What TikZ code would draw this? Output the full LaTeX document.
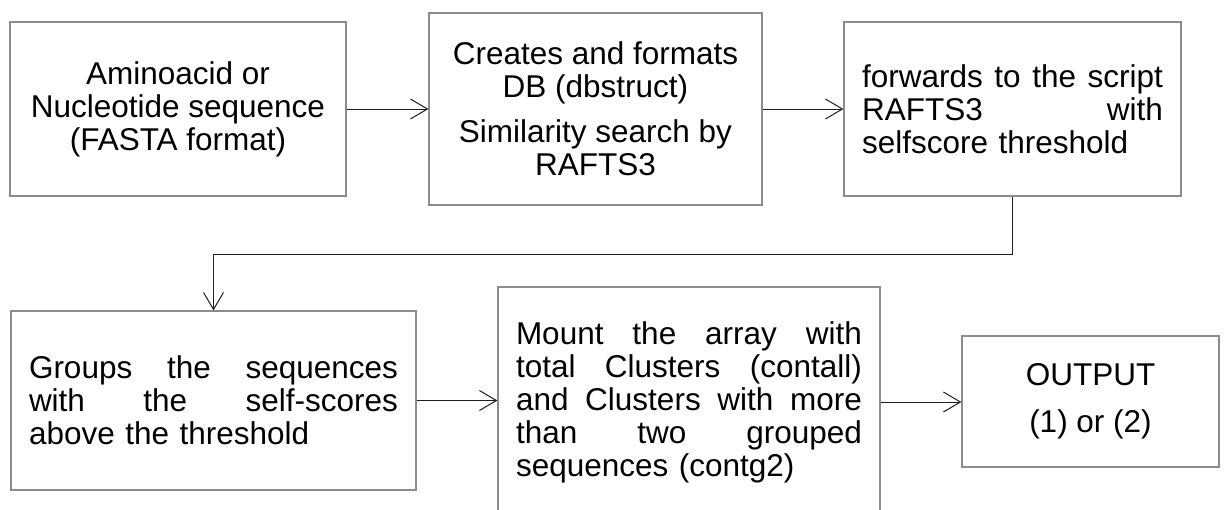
\documentclass[tikz,border=0pt]{standalone}
\usepackage{fontspec}
\setmainfont{Liberation Sans}
\usetikzlibrary{arrows.meta}
\definecolor{boxline}{RGB}{140,140,140}
\definecolor{arrowline}{RGB}{30,30,30}
\tikzset{
  stepbox/.style={draw=boxline, line width=1.2pt, fill=white, inner xsep=18pt, inner ysep=0pt,
    font=\fontsize{31.5}{33}\selectfont, anchor=center},
  flow/.style={draw=arrowline, line width=1pt, -{Straight Barb[length=17pt,width=20pt,line width=1pt]}}
}
\begin{document}
\begin{tikzpicture}[x=1pt,y=-1pt]
  \useasboundingbox (0,0) rectangle (1224,509);
  \clip (0,0) rectangle (1224,509);
  \fill[white] (0,0) rectangle (1224,509);

  % first row
  \node[stepbox, minimum width=336pt, minimum height=174pt, align=center] (b1) at (178,109)
    {Aminoacid or\\Nucleotide sequence\\(FASTA format)};
  \node[stepbox, minimum width=333pt, minimum height=192pt, align=center] (b2) at (595.5,109)
    {Creates and formats\\DB (dbstruct)\\[12pt]Similarity search by\\RAFTS3};
  \node[stepbox, text width=301pt, minimum height=174pt, align=left] (b3) at (1012.5,109)
    {forwards\hfill to\hfill the\hfill script\\RAFTS3\hfill with\\selfscore threshold};

  % second row
  \node[stepbox, text width=369pt, minimum height=179pt, align=left] (b4) at (213.5,400.5)
    {Groups\hfill the\hfill sequences\\with\hfill the\hfill self-scores\\above the threshold};
  \node[stepbox, text width=346pt, minimum height=230pt, align=left] (b5) at (689,402)
    {Mount\hfill the\hfill array\hfill with\\total\hfill Clusters\hfill (contall)\\and\hfill Clusters\hfill with\hfill more\\than\hfill two\hfill grouped\\sequences (contg2)};
  \node[stepbox, minimum width=257pt, minimum height=131pt, align=center] (b6) at (1090.5,401.5)
    {OUTPUT\\[14pt](1) or (2)};

  % connectors
  \draw[flow] (b1.east) -- (b2.west);
  \draw[flow] (b2.east) -- (b3.west |- b2.east);
  \coordinate (turnR) at (1012.5,254);
  \coordinate (turnL) at (213.5,254);
  \draw[flow] (b3.south) -- (turnR) -- (turnL) -- (b4.north);
  \draw[flow] (b4.east) -- (b5.west |- b4.east);
  \draw[flow] (b5.east) -- (b6.west |- b5.east);
\end{tikzpicture}
\end{document}
